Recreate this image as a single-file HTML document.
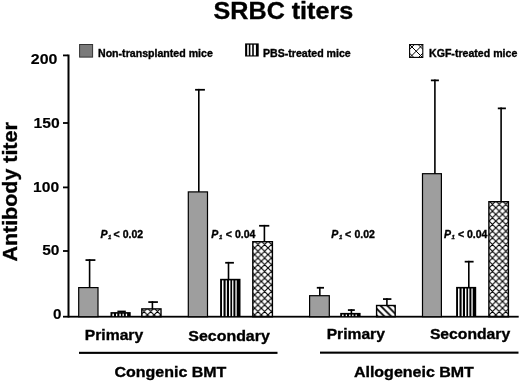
<!DOCTYPE html>
<html><head><meta charset="utf-8">
<style>
html,body{margin:0;padding:0;background:#fff;}
body{width:520px;height:382px;overflow:hidden;}
svg{display:block;filter:grayscale(1);}
text{font-family:"Liberation Sans",sans-serif;font-weight:bold;fill:#000;}
</style></head>
<body>
<svg width="520" height="382" viewBox="0 0 520 382">
<defs>
<pattern id="xh" patternUnits="userSpaceOnUse" width="6.7" height="6.7">
<path d="M0,0L6.7,6.7M6.7,0L0,6.7M-1,5.7L1,7.7M5.7,-1L7.7,1M-1,1L1,-1M5.7,7.7L7.7,5.7" stroke="#000" stroke-width="1.15" fill="none"/>
</pattern>
<pattern id="dg" patternUnits="userSpaceOnUse" width="6.8" height="6.8">
<path d="M0,0L6.8,6.8M-3.4,3.4L3.4,10.2M3.4,-3.4L10.2,3.4" stroke="#000" stroke-width="1.8" fill="none"/>
</pattern>
</defs>
<rect width="520" height="382" fill="#fff"/>

<text x="213.6" y="18.8" font-size="24.5" textLength="139.6" lengthAdjust="spacingAndGlyphs" stroke="#000" stroke-width="0.35">SRBC titers</text>
<rect x="79.6" y="44.5" width="13" height="12.6" fill="#7a7a7a" stroke="#333" stroke-width="1"/>
<text x="98" y="56.8" font-size="10.6" stroke="#000" stroke-width="0.35">Non-transplanted mice</text>
<rect x="245.1" y="43.4" width="13.6" height="13.1" fill="#000"/>
<rect x="247.2" y="44.7" width="1.6" height="10.7" fill="#fff"/>
<rect x="250.4" y="44.7" width="1.8" height="10.7" fill="#fff"/>
<rect x="253.8" y="44.7" width="2.1" height="10.7" fill="#fff"/>
<text x="263" y="56.7" font-size="10.6" stroke="#000" stroke-width="0.35">PBS-treated mice</text>
<path d="M409.6,44.6L422.8,57.8M418.2,44.6L422.8,49.2M409.6,53.2L414.2,57.8M422.8,44.6L409.6,57.8M414.3,44.6L409.6,49.3M422.8,53.2L418.2,57.8" stroke="#000" stroke-width="1" fill="none"/>
<rect x="409.6" y="44.6" width="13.2" height="12.799999999999999" fill="none" stroke="#000" stroke-width="1.1"/>
<text x="429" y="56.9" font-size="10.6" stroke="#000" stroke-width="0.35">KGF-treated mice</text>
<text transform="translate(16.7,261.6) rotate(-90)" x="0" y="0" font-size="19.8" textLength="139.4" lengthAdjust="spacingAndGlyphs" stroke="#000" stroke-width="0.35">Antibody titer</text>
<g font-size="15.2" text-anchor="end" stroke="#000" stroke-width="0.15">
<text x="57.4" y="63.7" textLength="26.6" lengthAdjust="spacingAndGlyphs">200</text>
<text x="59.7" y="127.8" textLength="26.1" lengthAdjust="spacingAndGlyphs">150</text>
<text x="59.2" y="191.8" textLength="26.1" lengthAdjust="spacingAndGlyphs">100</text>
<text x="59.5" y="255.2" textLength="17.3" lengthAdjust="spacingAndGlyphs">50</text>
<text x="61.4" y="318.7">0</text>
</g>
<rect x="67.5" y="54.5" width="2" height="263" fill="#000"/>
<rect x="63" y="54.5" width="5" height="1.8" fill="#000"/>
<rect x="63" y="122.1" width="5" height="1.8" fill="#000"/>
<rect x="63" y="186.5" width="5" height="1.8" fill="#000"/>
<rect x="63" y="250.1" width="5" height="1.8" fill="#000"/>
<rect x="63" y="315.8" width="455.7" height="1.8" fill="#000"/>
<rect x="85.5" y="259.2" width="9.9" height="1.75" fill="#000"/>
<rect x="88.8" y="259.2" width="1.6" height="28.8" fill="#000"/>
<rect x="117.4" y="310.6" width="8.4" height="1.75" fill="#000"/>
<rect x="148.3" y="301.2" width="9.6" height="1.75" fill="#000"/>
<rect x="151.6" y="301.2" width="1.6" height="8" fill="#000"/>
<rect x="195.1" y="88.9" width="9.8" height="1.75" fill="#000"/>
<rect x="198" y="88.9" width="1.6" height="103.4" fill="#000"/>
<rect x="225.2" y="261.9" width="8.7" height="1.75" fill="#000"/>
<rect x="227.7" y="261.9" width="1.6" height="17.9" fill="#000"/>
<rect x="259.1" y="224.9" width="10.2" height="1.75" fill="#000"/>
<rect x="263.6" y="224.9" width="1.6" height="17.1" fill="#000"/>
<rect x="316.8" y="286.9" width="7.2" height="1.75" fill="#000"/>
<rect x="319" y="286.9" width="1.6" height="9.2" fill="#000"/>
<rect x="347.9" y="309.2" width="6.9" height="1.75" fill="#000"/>
<rect x="350.6" y="309.2" width="1.6" height="4.7" fill="#000"/>
<rect x="383" y="298.2" width="8.4" height="1.75" fill="#000"/>
<rect x="386.1" y="298.2" width="1.6" height="7.6" fill="#000"/>
<rect x="430.9" y="79.5" width="8" height="1.75" fill="#000"/>
<rect x="434.1" y="79.5" width="1.6" height="94.6" fill="#000"/>
<rect x="464.7" y="260.8" width="8.9" height="1.75" fill="#000"/>
<rect x="468" y="260.8" width="1.6" height="27.1" fill="#000"/>
<rect x="497.8" y="107.5" width="8.1" height="1.75" fill="#000"/>
<rect x="500.3" y="107.5" width="1.6" height="94.5" fill="#000"/>
<rect x="78.7" y="287.6" width="19.3" height="29.1" fill="#9e9e9e" stroke="#000" stroke-width="1.2"/>
<rect x="110.5" y="312.1" width="20.2" height="4.6" fill="#000"/>
<rect x="112.4" y="313.7" width="1.5" height="2.4" fill="#fff"/>
<rect x="116" y="313.7" width="1.3" height="2.4" fill="#fff"/>
<rect x="119.4" y="313.7" width="1.4" height="2.4" fill="#fff"/>
<rect x="122.5" y="313.7" width="1.3" height="2.4" fill="#fff"/>
<rect x="125.8" y="313.7" width="1.3" height="2.4" fill="#fff"/>
<rect x="141.8" y="308.9" width="19.2" height="7.8" fill="url(#xh)" stroke="#000" stroke-width="1.4"/>
<rect x="188.3" y="191.9" width="19.2" height="124.8" fill="#9e9e9e" stroke="#000" stroke-width="1.2"/>
<rect x="220.1" y="278.8" width="20.4" height="37.9" fill="#000"/>
<rect x="222" y="280.4" width="1.5" height="35.7" fill="#fff"/>
<rect x="225.6" y="280.4" width="1.3" height="35.7" fill="#fff"/>
<rect x="229" y="280.4" width="1.4" height="35.7" fill="#fff"/>
<rect x="232.1" y="280.4" width="1.3" height="35.7" fill="#fff"/>
<rect x="235.4" y="280.4" width="1.3" height="35.7" fill="#fff"/>
<rect x="252.8" y="241.7" width="19.6" height="75" fill="url(#xh)" stroke="#000" stroke-width="1.4"/>
<rect x="309.6" y="295.7" width="19.7" height="21" fill="#9e9e9e" stroke="#000" stroke-width="1.2"/>
<rect x="340.2" y="312.9" width="20.4" height="3.8" fill="#000"/>
<rect x="342.1" y="314.5" width="1.5" height="1.6" fill="#fff"/>
<rect x="345.7" y="314.5" width="1.3" height="1.6" fill="#fff"/>
<rect x="349.1" y="314.5" width="1.4" height="1.6" fill="#fff"/>
<rect x="352.2" y="314.5" width="1.3" height="1.6" fill="#fff"/>
<rect x="355.5" y="314.5" width="1.3" height="1.6" fill="#fff"/>
<rect x="376.6" y="305.5" width="18.6" height="11.2" fill="url(#dg)" stroke="#000" stroke-width="1.4"/>
<rect x="422.5" y="173.7" width="18.9" height="143" fill="#9e9e9e" stroke="#000" stroke-width="1.2"/>
<rect x="456.1" y="286.9" width="20.1" height="29.8" fill="#000"/>
<rect x="458" y="288.5" width="1.5" height="27.6" fill="#fff"/>
<rect x="461.6" y="288.5" width="1.3" height="27.6" fill="#fff"/>
<rect x="465" y="288.5" width="1.4" height="27.6" fill="#fff"/>
<rect x="468.1" y="288.5" width="1.3" height="27.6" fill="#fff"/>
<rect x="471.4" y="288.5" width="1.3" height="27.6" fill="#fff"/>
<rect x="488.9" y="201.7" width="19.5" height="115" fill="url(#xh)" stroke="#000" stroke-width="1.4"/>
<g font-size="10.5" stroke="#000" stroke-width="0.35">
<text y="237.6"><tspan x="100.4" font-style="italic">P</tspan><tspan x="107.9" y="238.8" font-style="italic" font-size="6">1</tspan><tspan x="113.55" y="237.6">&lt;</tspan><tspan x="122.65">0.02</tspan></text>
<text y="237.6"><tspan x="211.2" font-style="italic">P</tspan><tspan x="218.9" y="238.8" font-style="italic" font-size="6">1</tspan><tspan x="225.65" y="237.6">&lt;</tspan><tspan x="235.00">0.04</tspan></text>
<text y="237.6"><tspan x="331.2" font-style="italic">P</tspan><tspan x="338.9" y="238.8" font-style="italic" font-size="6">1</tspan><tspan x="345.05" y="237.6">&lt;</tspan><tspan x="354.50">0.02</tspan></text>
<text y="237.6"><tspan x="444.1" font-style="italic">P</tspan><tspan x="451.4" y="238.8" font-style="italic" font-size="6">1</tspan><tspan x="457.95" y="237.6">&lt;</tspan><tspan x="467.00">0.04</tspan></text>
</g>
<g font-size="15.4" stroke="#000" stroke-width="0.35">
<text x="84.8" y="340.3" textLength="58.4" lengthAdjust="spacingAndGlyphs">Primary</text>
<text x="188.3" y="340.5" textLength="81.5" lengthAdjust="spacingAndGlyphs">Secondary</text>
<text x="326.7" y="338.7" textLength="58.2" lengthAdjust="spacingAndGlyphs">Primary</text>
<text x="429.9" y="339.3" textLength="80.3" lengthAdjust="spacingAndGlyphs">Secondary</text>
</g>
<rect x="79" y="351.8" width="198.5" height="2.1" fill="#000"/>
<rect x="320" y="351.6" width="198.5" height="2.1" fill="#000"/>
<g font-size="15" stroke="#000" stroke-width="0.35">
<text x="114.4" y="376.7" textLength="112" lengthAdjust="spacingAndGlyphs">Congenic BMT</text>
<text x="353.9" y="377.3" textLength="120" lengthAdjust="spacingAndGlyphs">Allogeneic BMT</text>
</g>
</svg>
</body></html>
